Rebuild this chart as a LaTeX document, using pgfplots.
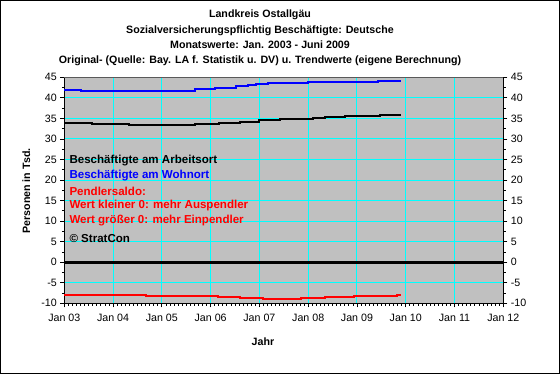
\documentclass[border=0pt]{standalone}
\usepackage{fontspec}
\setmainfont{Liberation Sans}
\usepackage{pgfplots}
\pgfplotsset{compat=1.18}
\definecolor{plotgray}{RGB}{192,192,192}
\definecolor{gridcyan}{RGB}{0,255,255}
\definecolor{pblue}{RGB}{0,0,255}
\definecolor{pred}{RGB}{255,0,0}
\begin{document}
\begin{tikzpicture}[x=1bp,y=1bp]
\path[use as bounding box] (0,0) rectangle (560,374);
\pgfplotsset{
  common/.style={
    at={(64.3bp,70.7bp)}, anchor=south west,
    scale only axis, width=439bp, height=226bp,
    xmin=0, xmax=9, ymin=-10, ymax=45,
    ytick={-10,-5,...,45}, minor y tick num=1,
    tick align=outside, major tick length=4bp, minor tick length=2.5bp,
    tick style={black, line width=0.8bp},
    axis line style={black, line width=1bp},
    ticklabel style={font=\fontsize{10.7}{12}\selectfont},
    /pgf/number format/assume math mode=true,
  }
}
\begin{axis}[common,
  axis x line*=bottom, axis y line*=left,
  xtick={0,...,9},
  xticklabels={Jan 03,Jan 04,Jan 05,Jan 06,Jan 07,Jan 08,Jan 09,Jan 10,Jan 11,Jan 12},
  xticklabel style={yshift=-3.5bp},
  minor x tick num=11,
  grid=major, major grid style={gridcyan, line width=1bp},
  axis background/.style={fill=plotgray},
  xlabel={Jahr}, ylabel={Personen in Tsd.},
  label style={font=\fontsize{10.7}{12}\selectfont\bfseries},
  xlabel style={at={(axis description cs:0.4526,0)}, anchor=center, yshift=-38.5bp},
  ylabel style={at={(axis description cs:-0.0866,0.497)}, anchor=center},
  const plot, clip=false,
]
\draw[gray!70!black, line width=1bp] (rel axis cs:0,1) -- (rel axis cs:1,1);
\addplot[black, line width=3bp, no marks, forget plot] coordinates {(0,0) (9,0)};
% Beschaeftigte am Wohnort
\addplot[pblue, line width=2bp, no marks, const plot] coordinates {
(0,42.0) (0.34,41.7) (2.68,42.05) (3.09,42.3) (3.52,42.8) (3.76,43.1) (3.93,43.3) (4.18,43.5) (4.52,43.7) (5.0,43.9) (6.43,44.2) (6.91,44.2)};
% Beschaeftigte am Arbeitsort
\addplot[black, line width=2bp, no marks, const plot] coordinates {
(0,33.9) (0.57,33.7) (1.33,33.5) (2.68,33.7) (3.17,33.9) (3.6,34.2) (3.99,34.5) (4.42,34.75) (4.76,34.95) (5.1,35.15) (5.34,35.35) (5.75,35.65) (6.47,35.9) (6.91,35.9)};
% Pendlersaldo
\addplot[pred, line width=2bp, no marks, const plot] coordinates {
(0,-7.9) (1.67,-8.15) (3.16,-8.4) (3.6,-8.65) (4.08,-8.9) (4.85,-8.65) (5.34,-8.4) (5.94,-8.15) (6.82,-7.9) (6.91,-7.9)};
\end{axis}
\begin{axis}[common,
  axis y line*=right, axis x line=none,
  yticklabel pos=right,
]
\end{axis}
\draw[black, line width=1.2bp] (0.6,0.6) rectangle (559.4,373.4);
\node[align=center, font=\fontsize{10.7}{15.2}\selectfont\bfseries] at (260,336.1) {Landkreis Ostallgäu\\Sozialversicherungspflichtig Beschäftigte: Deutsche\\Monatswerte: Jan. 2003 - Juni 2009\\Original- (Quelle: Bay. LA f. Statistik u. DV) u. Trendwerte (eigene Berechnung)};
\begin{scope}[every node/.style={anchor=west, inner sep=0pt, font=\fontsize{11.6}{12}\selectfont\bfseries}]
\node[black] at (69.3,213) {Beschäftigte am Arbeitsort};
\node[pblue] at (69.3,198.3) {Beschäftigte am Wohnort};
\node[pred] at (69.3,183) {Pendlersaldo:};
\node[pred] at (69.3,168) {Wert kleiner 0: mehr Auspendler};
\node[pred] at (69.3,153) {Wert größer 0: mehr Einpendler};
\node[black] at (69.3,135) {© StratCon};
\end{scope}
\end{tikzpicture}
\end{document}
